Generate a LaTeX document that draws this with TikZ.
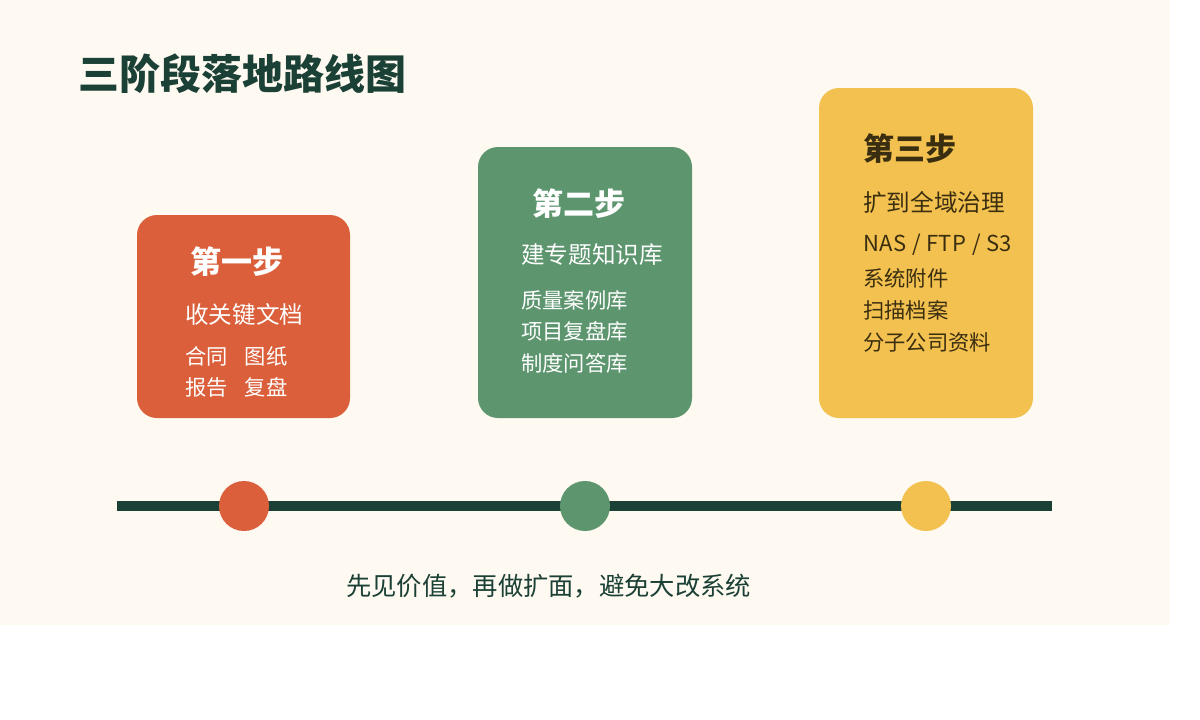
\documentclass[tikz,border=0pt]{standalone}
\usepackage{fontspec}
\setmainfont{Noto Sans CJK SC}
\definecolor{bgcream}{HTML}{FEF9F1}
\definecolor{darkgreen}{HTML}{1B4035}
\definecolor{orangec}{HTML}{DA5F3A}
\definecolor{greenc}{HTML}{5C956E}
\definecolor{yellowc}{HTML}{F3C14F}
\definecolor{browntext}{HTML}{3A2E10}
\tikzset{
  card/.style={fill=#1, draw=none, rounded corners=20pt, inner sep=0pt},
  dot/.style={circle, fill=#1, draw=none, minimum size=50pt, inner sep=0pt},
  ttl/.style={anchor=west, inner sep=0pt, font=\fontsize{31}{37}\selectfont\bfseries},
  sub/.style={anchor=west, inner sep=0pt, font=\fontsize{23.6}{28}\selectfont},
  itm/.style={anchor=west, inner sep=0pt, font=\fontsize{21.3}{26}\selectfont},
}
\begin{document}
\begin{tikzpicture}[x=1pt,y=-1pt]
\useasboundingbox (0,0) rectangle (1200,720);
\fill[white] (0,0) rectangle (1200,720);
\fill[bgcream] (0,0) rectangle (1170,625);

% title
\node[anchor=west, inner sep=0pt, text=darkgreen, font=\fontsize{41}{49}\selectfont\bfseries] (title) at (78,74) {三阶段落地路线图};

% cards
\path[card=orangec] (137,215) rectangle (350,418);
\path[card=greenc] (478,147) rectangle (692,418);
\path[card=yellowc] (819,88) rectangle (1033,418);

% card 1
\node[ttl, text=white] (t1) at (190,262) {第一步};
\node[sub, text=white] (s1) at (185,315) {收关键文档};
\node[itm, text=white] (a1) at (185,356) {合同\hspace{0.8em}图纸};
\node[itm, text=white] (b1) at (185,387) {报告\hspace{0.8em}复盘};

% card 2
\node[ttl, text=white] (t2) at (532,204) {第二步};
\node[sub, text=white] (s2) at (521,255) {建专题知识库};
\node[itm, text=white] (a2) at (521,300) {质量案例库};
\node[itm, text=white] (b2) at (521,331.5) {项目复盘库};
\node[itm, text=white] (c2) at (521,363) {制度问答库};

% card 3
\node[ttl, text=browntext] (t3) at (863,149) {第三步};
\node[sub, text=browntext] (s3) at (863,202.5) {扩到全域治理};
\node[anchor=west, inner sep=0pt, text=browntext, font=\fontsize{22}{26}\selectfont\addfontfeature{LetterSpace=2.5}] (a3) at (863,245) {NAS / FTP / S3};
\node[itm, text=browntext] (b3) at (863,278) {系统附件};
\node[itm, text=browntext] (c3) at (863,310) {扫描档案};
\node[itm, text=browntext] (d3) at (863,342) {分子公司资料};

% timeline
\coordinate (ls) at (117,506);
\coordinate (le) at (1052,506);
\draw[darkgreen, line width=10pt] (ls) -- (le);
\node[dot=orangec] (d1) at (244,506) {};
\node[dot=greenc] (d2) at (585,506) {};
\node[dot=yellowc] (d3) at (926,506) {};

% caption
\node[anchor=west, inner sep=0pt, text=darkgreen, font=\fontsize{25.3}{30}\selectfont] (cap) at (346,586) {先见价值，再做扩面，避免大改系统};
\end{tikzpicture}
\end{document}
